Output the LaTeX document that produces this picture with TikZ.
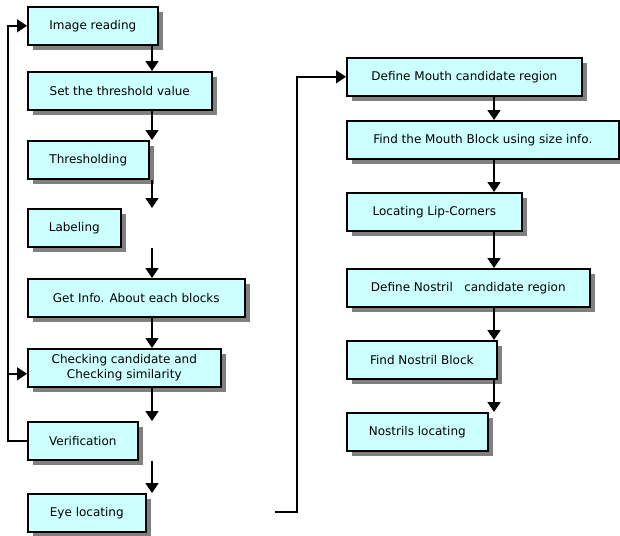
\documentclass[tikz,border=0pt]{standalone}
\usepackage{fontspec}
\setmainfont{DejaVu Sans}
\usetikzlibrary{arrows.meta,positioning,shadows}
\definecolor{boxcyan}{RGB}{204,255,255}
\definecolor{shadowgray}{RGB}{128,128,128}

\begin{document}
\begin{tikzpicture}[
    x=1pt, y=-1pt,
    stage/.style={draw,rectangle,line width=1.6pt,fill=boxcyan,anchor=north west,
        minimum height=38pt,inner sep=2pt,align=center,font=\fontsize{12}{15}\selectfont,
        drop shadow={shadow xshift=5pt,shadow yshift=-5pt,fill=shadowgray,opacity=1}},
    flow/.style={line width=1.6pt,-{Triangle[width=13pt,length=10pt]}},
    link/.style={line width=1.6pt},
]
\useasboundingbox (0,0) rectangle (620,535);

% Guide lines
\coordinate (lx) at (152,0);
\coordinate (rx) at (494,0);
\coordinate (fb) at (8,0);
\coordinate (jx) at (297,0);
\coordinate (mstart) at (275,512);

% Eye search
\node[stage,minimum width=130pt] (img) at (27,6) {Image reading};
\node[stage,minimum width=184pt] (set) at (27,71) {Set the threshold value};
\node[stage,minimum width=121pt] (thr) at (27,140) {Thresholding};
\node[stage,minimum width=93pt] (lab) at (27,208) {Labeling};
\node[stage,minimum width=217pt] (info) at (27,278) {Get Info. About each blocks};
\node[stage,minimum width=193pt] (chk) at (27,348) {Checking candidate and\\Checking similarity};
\node[stage,minimum width=110pt] (ver) at (27,421) {Verification};
\node[stage,minimum width=118pt] (eye) at (27,493) {Eye locating};

% Mouth and nostril search
\node[stage,minimum width=235pt] (mouth) at (346,57) {Define Mouth candidate region};
\node[stage,minimum width=272pt] (mblk) at (346,120) {Find the Mouth Block using size info.};
\node[stage,minimum width=175pt] (lip) at (346,192) {Locating Lip-Corners};
\node[stage,minimum width=243pt] (nos) at (346,268) {Define Nostril\ \ \ candidate region};
\node[stage,minimum width=150pt] (nblk) at (346,340) {Find Nostril Block};
\node[stage,minimum width=141pt] (nloc) at (346,412) {Nostrils locating};

% Left column arrows
\draw[flow] (img.south -| lx) -- (set.north -| lx);
\draw[flow] (set.south -| lx) -- (thr.north -| lx);
\draw[flow] (thr.south -| lx) -- (lab.north -| lx);
\draw[flow] (lab.south -| lx) -- (info.north -| lx);
\draw[flow] (info.south -| lx) -- (chk.north -| lx);
\draw[flow] (chk.south -| lx) -- (ver.north -| lx);
\draw[flow] (ver.south -| lx) -- (eye.north -| lx);

% Feedback from verification
\draw[flow] (ver.west) -- (ver.west -| fb) |- (img.west);
\draw[flow] (ver.west -| fb) |- ([yshift=-6pt]chk.west);

% Jump to mouth search
\draw[flow] (mstart) -- (mstart -| jx) |- (mouth.west);

% Right column arrows
\draw[flow] (mouth.south -| rx) -- (mblk.north -| rx);
\draw[flow] (mblk.south -| rx) -- (lip.north -| rx);
\draw[flow] (lip.south -| rx) -- (nos.north -| rx);
\draw[flow] (nos.south -| rx) -- (nblk.north -| rx);
\draw[flow] (nblk.south -| rx) -- (nloc.north -| rx);

\end{tikzpicture}
\end{document}
